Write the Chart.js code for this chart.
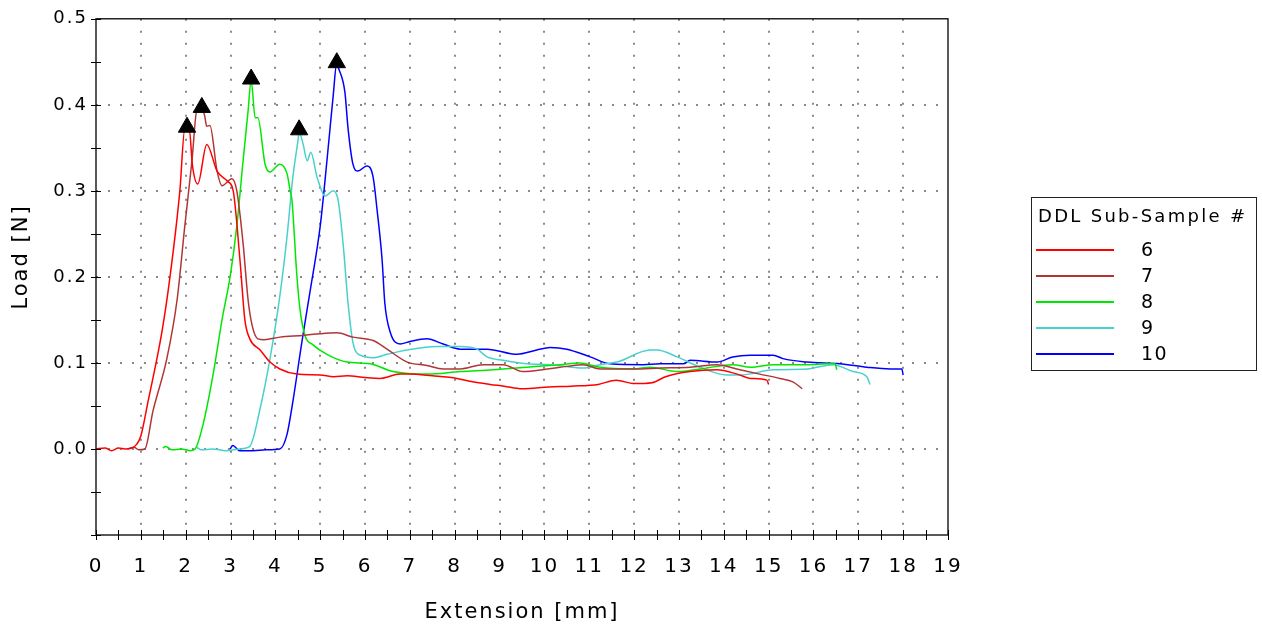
<!DOCTYPE html>
<html>
<head>
<meta charset="utf-8">
<script src="https://cdn.jsdelivr.net/npm/chart.js@4"></script>
<style>
    body { margin: 0; background: #fff; }
    #wrap { position: relative; width: 1262px; height: 629px; }
    #leyenda {
        position: absolute; left: 1031px; top: 197px; width: 224px; height: 172px;
        border: 1px solid #222; font-family: 'DejaVu Sans', sans-serif; font-size: 18px;
        letter-spacing: 2.3px; color: #000;
    }
    #leyenda .titulo { position: absolute; left: 6px; top: 7px; white-space: nowrap; }
    #leyenda .fila { position: absolute; left: 4px; height: 20px; width: 200px; }
    #leyenda .linea { position: absolute; left: 0; top: 10px; width: 78px; height: 1.5px; }
    #leyenda .etiqueta { position: absolute; left: 105px; top: -1px; font-size: 19px; letter-spacing: 1.5px; }
</style>
</head>
<body>
<div id="wrap">
    <canvas id="grafico" width="1262" height="629"></canvas>
    <div id="leyenda"></div>
</div>
<script>
// Datos (Extension [mm] / Load [N])
const ext6 = [0, 0.2, 0.35, 0.5, 0.65, 0.8, 0.9, 1.0, 1.16, 1.47, 1.65, 1.87, 1.98, 2.08, 2.15, 2.27, 2.47, 2.7, 2.94, 3.06, 3.21, 3.32, 3.43, 3.66, 3.88, 4.1, 4.48, 5.0, 5.3, 5.6, 6.0, 6.33, 6.78, 7.0, 7.5, 8.05, 8.4, 8.79, 9.1, 9.5, 10.1, 10.6, 11.2, 11.6, 12.0, 12.4, 12.7, 13.25, 13.85, 14.3, 14.6, 14.96, 15.0];
const load6 = [0, 0.001, -0.002, 0.001, 0, 0.001, 0.005, 0.015, 0.055, 0.136, 0.2, 0.3, 0.372, 0.372, 0.33, 0.308, 0.354, 0.323, 0.311, 0.3, 0.22, 0.15, 0.128, 0.115, 0.101, 0.093, 0.087, 0.086, 0.084, 0.085, 0.083, 0.082, 0.087, 0.087, 0.085, 0.082, 0.078, 0.075, 0.073, 0.070, 0.072, 0.073, 0.075, 0.080, 0.076, 0.077, 0.084, 0.090, 0.092, 0.087, 0.082, 0.080, 0.075];

const ext7 = [0.7, 0.85, 0.95, 1.09, 1.27, 1.58, 1.81, 1.98, 2.14, 2.25, 2.36, 2.42, 2.47, 2.54, 2.7, 2.81, 3.03, 3.14, 3.28, 3.39, 3.48, 3.61, 3.75, 4.1, 4.62, 5.0, 5.37, 5.73, 6.18, 6.49, 6.94, 7.38, 7.74, 8.12, 8.63, 9.08, 9.52, 10.06, 10.5, 10.86, 11.24, 11.98, 12.6, 13.25, 13.85, 14.36, 14.8, 15.25, 15.54, 15.75];
const load7 = [0, 0.002, -0.001, 0.0, 0.044, 0.105, 0.174, 0.259, 0.335, 0.394, 0.396, 0.388, 0.375, 0.376, 0.323, 0.306, 0.314, 0.30, 0.239, 0.174, 0.144, 0.128, 0.127, 0.130, 0.132, 0.134, 0.135, 0.130, 0.126, 0.116, 0.101, 0.097, 0.093, 0.093, 0.098, 0.098, 0.090, 0.093, 0.096, 0.098, 0.093, 0.093, 0.094, 0.095, 0.098, 0.092, 0.087, 0.082, 0.078, 0.070];

const ext8 = [1.49, 1.55, 1.7, 1.9, 2.1, 2.21, 2.39, 2.61, 2.81, 2.99, 3.14, 3.28, 3.39, 3.46, 3.55, 3.61, 3.77, 3.88, 4.1, 4.26, 4.33, 4.37, 4.48, 4.55, 4.66, 4.84, 5.15, 5.6, 6.11, 6.62, 7.38, 8.12, 8.85, 9.61, 10.35, 10.79, 11.24, 11.98, 12.36, 12.96, 13.47, 14.2, 14.6, 15.1, 15.86, 16.37, 16.48, 16.52];
const load8 = [0.001, 0.003, -0.001, 0.0, -0.002, 0.0, 0.029, 0.086, 0.15, 0.20, 0.259, 0.335, 0.392, 0.428, 0.385, 0.385, 0.331, 0.322, 0.331, 0.32, 0.30, 0.289, 0.201, 0.162, 0.132, 0.121, 0.110, 0.101, 0.099, 0.090, 0.087, 0.090, 0.092, 0.095, 0.098, 0.100, 0.095, 0.093, 0.095, 0.090, 0.093, 0.098, 0.095, 0.098, 0.098, 0.099, 0.099, 0.092];

const ext9 = [2.25, 2.35, 2.6, 2.9, 3.2, 3.43, 3.66, 3.88, 4.1, 4.26, 4.39, 4.5, 4.53, 4.62, 4.71, 4.79, 4.93, 5.11, 5.29, 5.4, 5.51, 5.62, 5.73, 5.89, 6.18, 6.49, 6.94, 7.6, 8.12, 8.5, 8.72, 9.08, 9.61, 10.12, 10.86, 11.24, 11.62, 12.36, 12.51, 12.96, 13.47, 14.07, 14.36, 15.1, 15.86, 16.44, 16.88, 17.19, 17.26];
const load9 = [0.002, -0.001, 0.0, -0.002, 0.0, 0.003, 0.047, 0.105, 0.178, 0.247, 0.316, 0.357, 0.368, 0.354, 0.335, 0.345, 0.316, 0.294, 0.30, 0.289, 0.239, 0.170, 0.124, 0.109, 0.106, 0.110, 0.115, 0.119, 0.119, 0.116, 0.107, 0.103, 0.099, 0.098, 0.094, 0.098, 0.101, 0.115, 0.115, 0.107, 0.095, 0.086, 0.086, 0.092, 0.093, 0.098, 0.090, 0.084, 0.075];

const ext10 = [2.99, 3.05, 3.2, 3.5, 3.8, 4.1, 4.26, 4.39, 4.59, 4.77, 5.0, 5.15, 5.29, 5.37, 5.4, 5.55, 5.62, 5.73, 5.84, 6.04, 6.18, 6.27, 6.38, 6.44, 6.56, 6.78, 7.0, 7.38, 7.74, 8.12, 8.72, 9.39, 9.83, 10.12, 10.5, 11.02, 11.46, 12.2, 12.58, 13.1, 13.25, 13.85, 14.2, 14.59, 15.1, 15.32, 15.86, 16.59, 17.19, 17.71, 17.97, 18.0];
const load10 = [0.0, 0.004, -0.002, -0.002, -0.001, 0.0, 0.017, 0.055, 0.124, 0.182, 0.259, 0.335, 0.411, 0.449, 0.444, 0.415, 0.373, 0.331, 0.323, 0.329, 0.316, 0.277, 0.22, 0.170, 0.136, 0.122, 0.125, 0.128, 0.122, 0.116, 0.116, 0.110, 0.115, 0.118, 0.116, 0.107, 0.099, 0.098, 0.099, 0.099, 0.103, 0.101, 0.107, 0.109, 0.109, 0.105, 0.101, 0.099, 0.095, 0.093, 0.093, 0.086];

// Maximos marcados con triangulos
const peakExt = [2.03, 2.36, 3.46, 4.53, 5.37];
const peakLoad = [0.374, 0.397, 0.43, 0.371, 0.449];

const seriesNames = ['6', '7', '8', '9', '10'];
const seriesColors = ['#ff0000', '#b03636', '#00e800', '#48d1cc', '#0000ff'];
const seriesExt = [ext6, ext7, ext8, ext9, ext10];
const seriesLoad = [load6, load7, load8, load9, load10];

const yMajor = [0, 0.1, 0.2, 0.3, 0.4];
const tituloY = 'Load [N]';

function esMultiplo(v, paso) {
    const r = Math.abs(v / paso - Math.round(v / paso));
    return r < 1e-6;
}

// Espaciado de letras como en el original
const espaciadoPlugin = {
    id: 'espaciado',
    beforeDraw(chart) {
        chart.ctx.letterSpacing = '2px';
    }
};

// Marco, marcas de escala a ambos lados del eje y titulo vertical
const marcoPlugin = {
    id: 'marco',
    afterDraw(chart) {
        const { ctx, chartArea: a, scales } = chart;
        ctx.save();
        ctx.strokeStyle = '#000';
        ctx.lineWidth = 1.3;
        ctx.strokeRect(a.left, a.top, a.right - a.left, a.bottom - a.top);
        ctx.lineWidth = 1;
        ctx.beginPath();
        scales.x.ticks.forEach(t => {
            const px = Math.round(scales.x.getPixelForValue(t.value)) + 0.5;
            ctx.moveTo(px, a.bottom - 5);
            ctx.lineTo(px, a.bottom + 5);
        });
        scales.y.ticks.forEach(t => {
            const py = Math.round(scales.y.getPixelForValue(t.value)) + 0.5;
            ctx.moveTo(a.left - 5, py);
            ctx.lineTo(a.left + 5, py);
        });
        ctx.stroke();

        ctx.translate(22, 257);
        ctx.rotate(-Math.PI / 2);
        ctx.fillStyle = '#000';
        ctx.font = "21px 'DejaVu Sans', sans-serif";
        ctx.textAlign = 'center';
        ctx.textBaseline = 'middle';
        ctx.fillText(tituloY, 0, 0);
        ctx.restore();
    }
};

const datasets = seriesNames.map((nombre, i) => ({
    label: nombre,
    data: seriesExt[i].map((x, j) => ({ x: x, y: seriesLoad[i][j] })),
    borderColor: seriesColors[i],
    borderWidth: 1.5,
    pointRadius: 0,
    showLine: true,
    order: 1,
    cubicInterpolationMode: 'monotone'
}));

// Los triangulos van encima de las curvas
datasets.push({
    label: 'picos',
    data: peakExt.map((x, j) => ({ x: x, y: peakLoad[j] })),
    showLine: false,
    pointStyle: 'triangle',
    pointRadius: 10,
    backgroundColor: '#000',
    borderColor: '#000',
    borderWidth: 1,
    order: 0
});

const ctx = document.getElementById('grafico').getContext('2d');
new Chart(ctx, {
    type: 'scatter',
    data: { datasets: datasets },
    options: {
        responsive: false,
        animation: false,
        layout: { padding: { top: 13, right: 314, left: 0, bottom: 0 } },
        plugins: { legend: { display: false }, tooltip: { enabled: false } },
        scales: {
            x: {
                type: 'linear',
                min: 0, max: 19,
                afterFit: s => { s.height = 94; },
                ticks: {
                    stepSize: 0.5,
                    autoSkip: false,
                    maxRotation: 0,
                    padding: 20,
                    color: '#000',
                    font: { family: "'DejaVu Sans', sans-serif", size: 20 },
                    callback: v => esMultiplo(v, 1) ? String(Math.round(v)) : ''
                },
                grid: {
                    drawTicks: false,
                    lineWidth: 2,
                    color: c => (c.tick && esMultiplo(c.tick.value, 1) && c.tick.value > 0 && c.tick.value < 19) ? '#8a8a8a' : 'transparent'
                },
                border: { display: false, dash: [2, 10] },
                title: {
                    display: true,
                    text: 'Extension [mm]',
                    color: '#000',
                    padding: { top: 4 },
                    font: { family: "'DejaVu Sans', sans-serif", size: 21 }
                }
            },
            y: {
                type: 'linear',
                min: -0.1, max: 0.5,
                afterFit: s => { s.width = 96; },
                ticks: {
                    stepSize: 0.05,
                    autoSkip: false,
                    padding: 8,
                    color: '#000',
                    font: { family: "'DejaVu Sans', sans-serif", size: 18 },
                    callback: v => (v > -0.001 && esMultiplo(v, 0.1)) ? Math.abs(v).toFixed(1) : ''
                },
                grid: {
                    drawTicks: false,
                    lineWidth: 2,
                    color: c => (c.tick && yMajor.some(m => Math.abs(m - c.tick.value) < 1e-6)) ? '#8a8a8a' : 'transparent'
                },
                border: { display: false, dash: [2, 10] },
                title: { display: false }
            }
        }
    },
    plugins: [espaciadoPlugin, marcoPlugin]
});

// Leyenda
const leyenda = document.getElementById('leyenda');
leyenda.innerHTML = '<div class="titulo">DDL Sub-Sample #</div>';
seriesNames.forEach((nombre, i) => {
    const fila = document.createElement('div');
    fila.className = 'fila';
    fila.style.top = (41 + i * 26) + 'px';
    fila.innerHTML = `<div class="linea" style="background:${seriesColors[i]}"></div><div class="etiqueta">${nombre}</div>`;
    leyenda.appendChild(fila);
});
</script>
</body>
</html>
